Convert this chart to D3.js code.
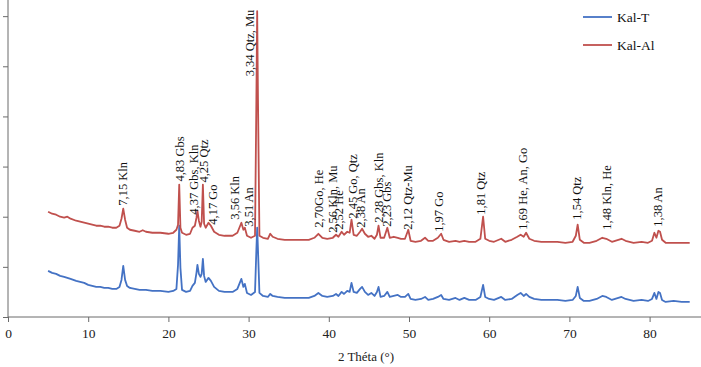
<!DOCTYPE html>
<html><head><meta charset="utf-8">
<script src="https://cdn.jsdelivr.net/npm/d3@7"></script>
<style>body{margin:0;background:#fff}svg{display:block}</style>
</head><body>
<svg id="c" width="701" height="367"></svg>
<script>
const twoTheta = [5.0,5.5,6.0,6.5,7.0,7.4,7.8,8.5,9.0,9.5,10.0,10.5,11.0,11.5,12.0,12.5,13.0,13.5,13.9,14.15,14.37,14.6,14.85,15.2,15.8,16.4,16.8,17.2,18.0,19.0,20.0,20.6,21.0,21.2,21.35,21.5,21.7,22.2,22.7,23.0,23.3,23.5,23.62,23.8,24.0,24.15,24.3,24.45,24.65,25.0,25.3,25.7,26.3,27.0,28.0,28.6,29.1,29.35,29.53,29.8,30.3,30.8,30.97,31.07,31.17,31.35,31.8,32.4,32.7,33.0,33.6,34.5,35.5,36.5,37.5,38.2,38.7,39.2,39.8,40.5,40.9,41.2,41.6,41.9,42.3,42.6,42.83,43.1,43.5,43.9,44.15,44.5,44.9,45.3,45.7,46.0,46.2,46.45,46.9,47.3,47.6,48.1,48.6,49.0,49.5,49.91,50.2,50.8,51.5,52.0,52.4,53.0,53.6,54.01,54.3,55.0,55.8,56.3,56.9,57.5,58.3,58.9,59.24,59.5,60.0,60.6,61.5,62.0,62.8,63.5,63.92,64.3,64.6,65.0,65.6,66.5,67.5,68.5,69.5,70.4,70.8,71.03,71.3,71.8,72.5,73.4,74.1,74.6,75.3,76.1,76.5,77.0,78.0,79.0,79.8,80.3,80.6,80.85,81.1,81.3,81.55,82.0,83.0,84.0,85.0];
const kalT = [920,880,860,820,800,780,760,720,700,680,640,620,600,600,580,580,560,560,600,740,1020,740,620,580,560,540,540,540,520,520,500,520,560,1040,1820,980,540,500,520,620,680,880,1040,860,800,860,1160,820,700,780,720,600,520,500,500,560,760,600,660,480,440,500,1340,1780,1340,480,420,400,460,420,400,380,380,380,380,420,480,420,400,420,460,420,500,460,520,500,680,500,480,560,600,500,440,480,420,500,600,400,420,500,400,420,440,400,400,460,360,340,360,400,340,360,400,440,360,340,380,340,380,340,340,400,640,400,360,340,400,340,360,440,480,420,460,400,360,340,340,340,320,340,420,600,380,320,320,360,420,400,340,380,400,360,320,340,320,360,480,360,500,480,340,300,320,300,300];
const kalAl = [2100,2060,2040,2000,1980,2000,1960,1920,1900,1880,1860,1840,1820,1820,1800,1800,1780,1780,1820,1960,2160,1940,1780,1740,1720,1700,1730,1700,1680,1680,1660,1680,1740,1840,2640,1780,1680,1640,1660,1780,1820,1980,2120,1920,1800,1900,2640,1860,1780,1880,1820,1700,1640,1620,1620,1680,1880,1740,1780,1620,1580,1620,4340,6100,4340,1620,1580,1560,1660,1600,1560,1540,1540,1540,1540,1580,1660,1580,1560,1580,1640,1600,1700,1640,1700,1680,1940,1640,1620,1700,1760,1660,1600,1620,1560,1640,1820,1580,1580,1780,1580,1600,1580,1560,1560,1740,1520,1500,1520,1580,1520,1520,1580,1660,1540,1500,1520,1500,1520,1500,1500,1560,2000,1560,1520,1500,1560,1500,1540,1600,1640,1600,1680,1560,1520,1500,1500,1500,1480,1500,1620,1840,1540,1480,1480,1520,1580,1560,1500,1540,1560,1520,1480,1500,1480,1520,1680,1580,1720,1700,1540,1480,1480,1480,1480];
const seriesNames = ["Kal-T","Kal-Al"];
const seriesColors = ["#4472C4","#C0504D"];
const peakLabels = ["7,15 Kln","4,83 Gbs","4,37 Gbs, Kln","4,25 Qtz","4,17 Go","3,56 Kln","3,51 An","3,34 Qtz, Mu","2,70Go, He","2,56 Kln, Mu","2,52 He","2,45 Go, Qtz","2,38 An","2,28 Gbs, Kln","2,23 Gbs","2,12 Qtz-Mu","1,97 Go","1,81 Qtz","1,69 He, An, Go","1,54 Qtz","1,48 Kln, He","1,38 An"];
const labelTheta = [14.34,21.45,23.19,24.44,25.56,28.30,30.05,30.17,38.78,40.52,41.27,43.02,44.01,46.26,47.26,49.88,53.74,58.98,64.21,70.95,74.69,81.05];
const labelIntensity = [2220,2700,2040,2680,1840,1940,1800,4800,1780,1680,1740,1960,1780,1880,1800,1740,1700,2040,1740,1940,1740,1800];
const xTicks = [0,10,20,30,40,50,60,70,80];
const yTicks = [0,1000,2000,3000,4000,5000,6000];
const xTitle = "2 Théta (°)";

const svg = d3.select("#c");
const x = d3.scaleLinear().domain([0,90]).range([8, 8+90*8.02]);
const y = d3.scaleLinear().domain([0,7000]).range([317, 317-351]);
const font = "'Liberation Serif','Times New Roman',serif";
const axisCol = "#6b6b6b";

// axes
const gx = svg.append("g").attr("transform","translate(0,317)")
  .call(d3.axisBottom(x).tickValues(xTicks).tickSize(5).tickPadding(6).tickFormat(d3.format("d")));
gx.select(".domain").attr("stroke",axisCol).attr("d",`M${x(0)},0H701`);
gx.selectAll(".tick line").attr("stroke",axisCol);
gx.selectAll("text").attr("font-family",font).attr("font-size","13.5px").attr("fill","#222");

const gy = svg.append("g").attr("transform",`translate(${x(0)},0)`)
  .call(d3.axisLeft(y).tickValues(yTicks).tickSize(5).tickFormat(""));
gy.select(".domain").attr("stroke",axisCol).attr("d",`M0,${y(0)}V0`);
gy.selectAll(".tick line").attr("stroke",axisCol);

// lines
const series = [kalT, kalAl];
const line = d3.line().x((d,i)=>x(twoTheta[i])).y(d=>y(d));
series.forEach((s,k)=>{
  svg.append("path").datum(s).attr("d",line).attr("fill","none")
    .attr("stroke",seriesColors[k]).attr("stroke-width",1.8).attr("stroke-linejoin","round");
});

// peak labels
svg.append("g").selectAll("text").data(peakLabels).join("text")
  .attr("transform",(d,i)=>`translate(${x(labelTheta[i])},${y(labelIntensity[i])}) rotate(-90)`)
  .attr("dy","0.35em").attr("text-anchor","start")
  .attr("font-family",font).attr("font-size","12.5px").attr("fill","#111")
  .text(d=>d);

// x title
svg.append("text").attr("x",366).attr("y",361).attr("text-anchor","middle")
  .attr("font-family",font).attr("font-size","13px").attr("fill","#222").text(xTitle);

// legend
const lg = svg.append("g");
seriesNames.forEach((n,k)=>{
  const yy = 17 + k*28;
  lg.append("line").attr("x1",583).attr("x2",612).attr("y1",yy).attr("y2",yy)
    .attr("stroke",seriesColors[k]).attr("stroke-width",1.8);
  lg.append("text").attr("x",617).attr("y",yy).attr("dy","0.35em")
    .attr("font-family",font).attr("font-size","13.5px").attr("fill","#111").text(n);
});
</script>
</body></html>
